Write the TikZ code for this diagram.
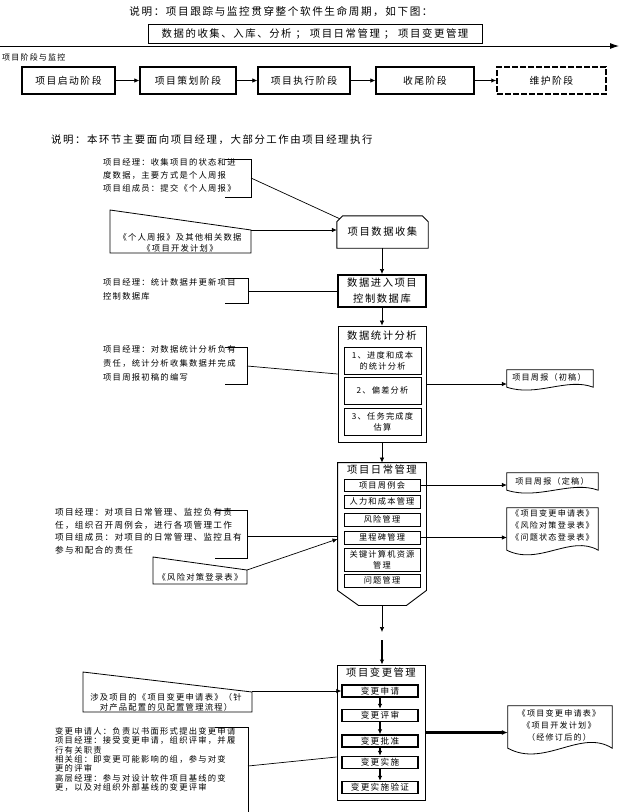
\documentclass[tikz,border=0pt]{standalone}
\usepackage{fontspec}
\setmainfont{Noto Sans CJK SC}[LetterSpace=15]
\usetikzlibrary{arrows.meta,calc}
\newcommand\fs[2]{\fontsize{#1}{#2}\selectfont}
\newcommand\docshape[2]{%
  \draw[shp] (#1.south west) -- (#1.north west) -- (#1.north east) -- (#1.south east)
    .. controls ($(#1.south east)!0.3!(#1.south west)+(0,-#2)$) and ($(#1.south west)!0.35!(#1.south east)+(0,#2)$) .. (#1.south west) -- cycle;}
\begin{document}
\begin{tikzpicture}[x=1pt,y=-1pt,
  lbl/.style={inner sep=0pt, font=\fs{8.3}{10}},
  note/.style={inner sep=0pt, align=left, anchor=north west, font=\fs{8.3}{#1}},
  phase/.style={draw, line width=1.4pt, minimum height=27pt, inner sep=0pt, font=\fs{9.8}{12}},
  cont/.style={line width=0.9pt, inner sep=0pt},
  sub/.style={draw, line width=0.8pt, minimum width=77pt, inner sep=0pt, align=center, font=\fs{8.2}{11}},
  csub/.style={draw, line width=1.4pt, minimum width=76pt, minimum height=12pt, inner sep=0pt, font=\fs{8.6}{10}},
  ttl/.style={inner sep=0pt, font=\fs{10.3}{16}, align=center},
  shp/.style={line width=0.8pt},
  conn/.style={line width=0.7pt},
  arr/.style={line width=0.7pt, -{Latex[length=5pt,width=4.5pt]}},
  doctext/.style={inner sep=0pt, align=center, font=\fs{8.1}{12}},
]
\useasboundingbox (0,0) rectangle (620,812);
\fill[white] (0,0) rectangle (620,812);

% ---------- header ----------
\node[inner sep=0pt, font=\fs{10.6}{12}] (title) at (281,12) {说明：项目跟踪与监控贯穿整个软件生命周期，如下图：};
\node[draw, line width=1pt, minimum width=334pt, minimum height=19pt, inner sep=0pt, font=\fs{10.4}{12}] (scope) at (315,34)
  {数据的收集、入库、分析 ； 项目日常管理 ； 项目变更管理};
\coordinate (axL) at (0,46);
\coordinate (axR) at (619,46);
\draw[line width=0.9pt, -{Latex[length=9pt,width=6pt]}] (axL) -- (axR);
\node[lbl, anchor=west, font=\fs{8}{10}] (stagelbl) at (2,57) {项目阶段与监控};

\node[phase, minimum width=93pt] (p1) at (68.5,80.5) {项目启动阶段};
\node[phase, minimum width=96pt] (p2) at (188,80.5) {项目策划阶段};
\node[phase, minimum width=92pt] (p3) at (304,80.5) {项目执行阶段};
\node[phase, minimum width=98pt] (p4) at (425,80.5) {收尾阶段};
\node[phase, minimum width=109pt, dash pattern=on 6pt off 2pt] (p5) at (551.5,80.5) {维护阶段};
\draw[arr] (p1.east) -- (p2.west);
\draw[arr] (p2.east) -- (p3.west);
\draw[arr] (p3.east) -- (p4.west);
\draw[arr, line width=1.5pt] (p4.east) -- (p5.west);

\node[inner sep=0pt, anchor=west, font=\fs{10.4}{12}] (sect) at (51,140) {说明：本环节主要面向项目经理，大部分工作由项目经理执行};

% ---------- data collection ----------
\node[ttl, minimum width=91pt, minimum height=32pt] (collect) at (382.5,232) {项目数据收集};
\draw[cont] (collect.south west) -- ($(collect.north west)+(0,6)$) -- ($(collect.north west)+(6,0)$)
  -- ($(collect.north east)+(-6,0)$) -- ($(collect.north east)+(0,6)$) -- (collect.south east) -- cycle;
\coordinate (colTL) at ($(collect.north west)+(3,3)$);

\node[note=13] (n1) at (103,158) {项目经理：收集项目的状态和进\\度数据，主要方式是个人周报\\项目组成员：提交《个人周报》};
\draw[shp] (225,159) -- (251,159) -- (251,197) -- (225,197);
\coordinate (n1c) at (251,178);
\draw[conn] (n1c) -- (colTL);

\draw[shp] (110,210) -- (251,230) -- (251,253) -- (110,253) -- cycle;
\node[doctext, font=\fs{8.3}{11}] (n2) at (180,242.5) {《个人周报》及其他相关数据\\《项目开发计划》};
\coordinate (n2c) at (251,230);
\draw[arr] (n2c) -- (n2c -| collect.west);

\node[ttl, draw, line width=2pt, minimum width=88pt, minimum height=32pt] (dbin) at (382,291) {数据进入项目\\控制数据库};
\draw[arr] (collect.south -| dbin.north) -- (dbin.north);

\node[note=14] (n3) at (103,278.5) {项目经理：统计数据并更新项目\\控制数据库};
\draw[shp] (225,278) -- (248,278) -- (248,303) -- (225,303);
\coordinate (n3c) at (248,291);
\draw[conn] (n3c) -- (dbin.west);

% ---------- statistics ----------
\node[cont, draw, minimum width=88pt, minimum height=116pt] (stat) at (382,384) {};
\draw[arr] (dbin.south) -- (stat.north);
\node[ttl] (statT) at (382,336) {数据统计分析};
\node[sub, minimum height=27pt] (s1) at (382.5,360.5) {1、进度和成本\\的统计分析};
\node[sub, minimum height=27pt] (s2) at (382.5,390.5) {2、偏差分析};
\node[sub, minimum height=27pt] (s3) at (382.5,421.5) {3、任务完成度\\估算};

\node[note=14] (n4) at (103,345) {项目经理：对数据统计分析负有\\责任，统计分析收集数据并完成\\项目周报初稿的编写};
\draw[shp] (225,347) -- (247,347) -- (247,384) -- (225,384);
\coordinate (n4c) at (247,366);
\draw[conn] (n4c) -- ($(stat.west)+(0,-10)$);

\node[inner sep=0pt, minimum width=86pt, minimum height=17pt] (doc1) at (550,378.5) {};
\docshape{doc1}{10}
\node[doctext] (doc1t) at (549,377) {项目周报（初稿）};
\draw[arr] (stat.east) -- (stat.east -| doc1.west);

% ---------- daily management ----------
\node[cont, minimum width=88pt, minimum height=127pt] (daily) at (382,526.5) {};
\draw[cont] (daily.north west) -- (daily.north east) -- (daily.south east) -- ($(daily.south east)+(-20,15)$)
  -- ($(daily.south west)+(21,15)$) -- (daily.south west) -- cycle;
\coordinate (dailyB) at ($(daily.south)+(0,15)$);
\draw[arr] (stat.south) -- (daily.north);
\node[ttl] (dailyT) at (382,470) {项目日常管理};
\node[sub, minimum width=76pt, minimum height=12pt] (d1) at (382,485) {项目周例会};
\node[sub, minimum width=76pt, minimum height=13pt] (d2) at (382,501.5) {人力和成本管理};
\node[sub, minimum width=76pt, minimum height=13pt] (d3) at (382,519.5) {风险管理};
\node[sub, minimum width=76pt, minimum height=13pt] (d4) at (382,537.5) {里程碑管理};
\node[sub, minimum width=76pt, minimum height=23pt, font=\fs{8.2}{11}] (d5) at (382,559.5) {关键计算机资源\\管理};
\node[sub, minimum width=76pt, minimum height=13pt] (d6) at (382,580.5) {问题管理};

\node[note=12.5, font=\fs{8.6}{12.5}] (n5) at (55,508.5) {项目经理：对项目日常管理、监控负有责\\任，组织召开周例会，进行各项管理工作\\项目组成员：对项目的日常管理、监控且有\\参与和配合的责任};
\draw[shp] (215,510) -- (247,510) -- (247,558) -- (215,558);
\coordinate (n5c) at (247,536);
\draw[conn] (n5c) -- (n5c -| daily.west);

\draw[shp] (153,557) -- (247,570) -- (247,584) -- (153,584) -- cycle;
\node[lbl] (n6) at (200,577) {《风险对策登录表》};
\coordinate (n6c) at (247,570);
\draw[arr] (n6c) -- ($(daily.west)+(0,12.5)$);

\node[inner sep=0pt, minimum width=91pt, minimum height=17pt] (doc2) at (552.5,481.5) {};
\docshape{doc2}{10}
\node[doctext] (doc2t) at (552,481) {项目周报（定稿）};
\draw[arr] (d1.east) -- (d1.east -| doc2.west);
\node[inner sep=0pt, minimum width=91pt, minimum height=42pt] (doc3) at (552.5,529) {};
\docshape{doc3}{16}
\node[doctext] (doc3t) at (552.5,525.5) {《项目变更申请表》\\《风险对策登录表》\\《问题状态登录表》};
\draw[arr] (d4.east) -- (d4.east -| doc3.west);

% ---------- change management ----------
\coordinate (gap1) at (382,632);
\coordinate (gap2) at (382,640);
\draw[arr] (dailyB) -- (gap1);
\node[cont, draw, minimum width=88pt, minimum height=135pt] (change) at (381,732.5) {};
\draw[arr, line width=1.6pt] (gap2) -- (gap2 |- change.north);
\node[ttl] (changeT) at (381,673) {项目变更管理};
\node[csub] (c1) at (380,691) {变更申请};
\node[csub] (c2) at (380,715.5) {变更评审};
\node[csub] (c3) at (380,741) {变更批准};
\node[csub] (c4) at (380,762.5) {变更实施};
\node[csub] (c5) at (380,787.5) {变更实施验证};
\draw[arr, line width=1.5pt] (c1.south) -- (c2.north);
\draw[arr, line width=1.5pt] (c2.south) -- (c3.north);
\draw[arr, line width=1.5pt] (c3.south) -- (c4.north);
\draw[arr, line width=1.5pt] (c4.south) -- (c5.north);

\draw[shp] (83,672) -- (252,692) -- (252,712) -- (83,712) -- cycle;
\node[doctext, font=\fs{8.3}{10}] (n7) at (166,702) {涉及项目的《项目变更申请表》（针\\对产品配置的见配置管理流程）};
\coordinate (n7c) at (252,691);
\draw[arr] (n7c) -- (n7c -| c1.west);

\node[note=9.4] (n8) at (55,727) {变更申请人：负责以书面形式提出变更申请\\项目经理：接受变更申请，组织评审，并履\\行有关职责\\相关组：即变更可能影响的组，参与对变\\更的评审\\高层经理：参与对设计软件项目基线的变\\更，以及对组织外部基线的变更评审};
\draw[shp] (215,727) -- (248,727) -- (248,812);
\coordinate (n8c) at (248,766);
\draw[conn] (n8c) -- ($(change.west)+(0,24.5)$);

\node[inner sep=0pt, minimum width=104pt, minimum height=42pt] (doc4) at (560,727) {};
\docshape{doc4}{20}
\node[doctext] (doc4t) at (559,725) {《项目变更申请表》\\《项目开发计划》\\（经修订后的）};
\draw[line width=2.6pt, -{Latex[length=6pt,width=5pt]}] (change.east) -- (change.east -| doc4.west);
\end{tikzpicture}
\end{document}
